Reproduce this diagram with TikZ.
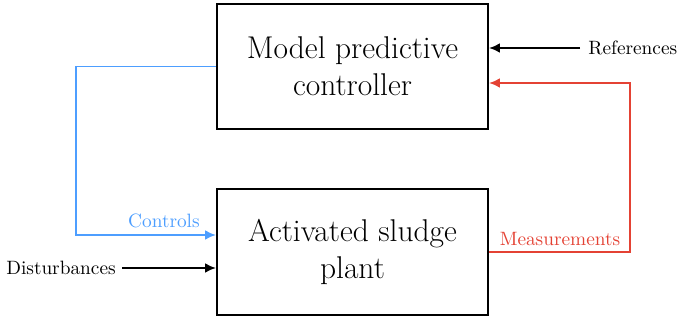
\documentclass[tikz,border=0pt]{standalone}
\usepackage{fontspec}
\usetikzlibrary{arrows.meta}
\definecolor{ctrlblue}{RGB}{77,158,255}
\definecolor{measred}{RGB}{228,66,52}
\begin{document}
\begin{tikzpicture}[x=0.518pt,y=-0.518pt,
  blockbox/.style={draw, line width=1pt, minimum width=140.4pt, minimum height=64.8pt, align=center, font=\fontsize{16.3}{19}\selectfont, inner sep=0pt},
  lbl/.style={font=\normalsize, inner sep=1pt},
  arr/.style={-{Latex[length=5.6pt,width=5pt]}, line width=1pt}]
\useasboundingbox (0,0) rectangle (678,320);
\node[blockbox] (mpc) at (352.5,66.5) {Model predictive\\controller};
\node[blockbox] (asp) at (352.5,252) {Activated sludge\\plant};
% references
\node[lbl, anchor=west] (ref) at (586,48) {References};
\draw[arr] (ref.west) ++(-6,0) coordinate (refstart) -- (refstart -| mpc.east);
% measurements
\coordinate (mcorner1) at (630,252);
\coordinate (mcorner2) at (630,83);
\draw[arr, measred] (asp.east |- mcorner1) -- (mcorner1) -- (mcorner2) -- (mcorner2 -| mpc.east);
\node[lbl, text=measred, anchor=south] (meas) at (560,248) {Measurements};
% controls
\coordinate (ccorner1) at (76,66.5);
\coordinate (ccorner2) at (76,235);
\draw[arr, ctrlblue] (mpc.west) -- (ccorner1) -- (ccorner2) -- (ccorner2 -| asp.west);
\node[lbl, text=ctrlblue, anchor=south east] (ctrl) at (202,230) {Controls};
% disturbances
\node[lbl, anchor=east] (dist) at (118,268) {Disturbances};
\draw[arr] (dist.east) ++(4,0) coordinate (diststart) -- (diststart -| asp.west);
\end{tikzpicture}
\end{document}
